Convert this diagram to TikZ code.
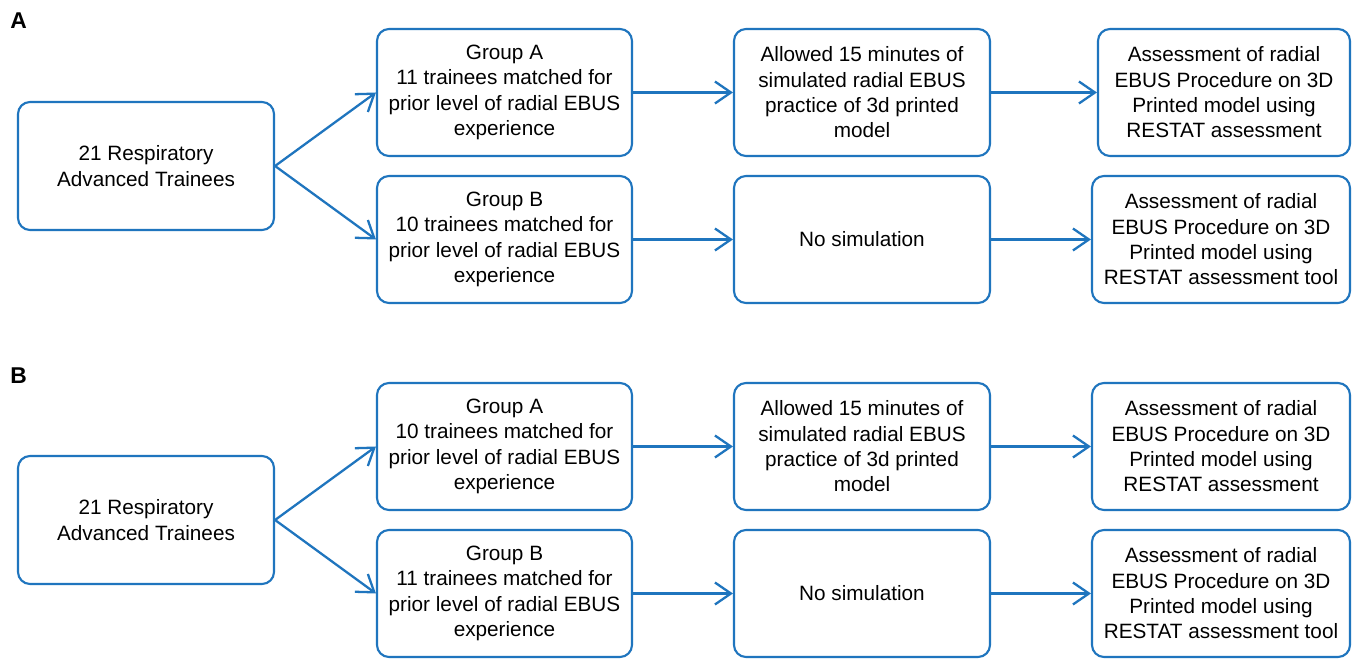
\documentclass[tikz,border=0pt]{standalone}
\usepackage{fontspec}
\setmainfont{Liberation Sans}
\usetikzlibrary{arrows.meta}
\definecolor{flowblue}{HTML}{1F75BE}

\tikzset{
  box/.style={draw=flowblue, line width=1.2pt, rounded corners=0.24cm,
    align=center, inner sep=0pt, minimum width=5.1cm, minimum height=2.54cm,
    font=\fontsize{11.8}{14.4}\selectfont},
  link/.style={draw=flowblue, line width=1.3pt,
    -{Straight Barb[length=0.32cm, width=0.44cm, line width=1.3pt]}},
  panel/.style={font=\fontsize{13}{15}\selectfont\bfseries}
}

\begin{document}
\begin{tikzpicture}[scale=1.0]

  \useasboundingbox[fill=white] (0, 0) rectangle (27.12, 13.22);

  % START OF PANEL A

  \node[panel] (labA) at (0.37, 12.8) {A};

  % BOXES
  \node[box, minimum width=5.12cm, minimum height=2.56cm] (startA) at (2.92, 9.90)
    {21 Respiratory\\Advanced Trainees};
  \node[box] (grpAA) at (10.09, 11.37)
    {Group A\\11 trainees matched for\\prior level of radial EBUS\\experience};
  \node[box] (grpAB) at (10.09, 8.43)
    {Group B\\10 trainees matched for\\prior level of radial EBUS\\experience};
  \node[box, minimum width=5.12cm] (simAA) at (17.24, 11.37)
    {Allowed 15 minutes of\\simulated radial EBUS\\practice of 3d printed\\model};
  \node[box, minimum width=5.12cm] (simAB) at (17.24, 8.43)
    {No simulation};
  \node[box, minimum width=5.04cm] (assAA) at (24.48, 11.37)
    {Assessment of radial\\EBUS Procedure on 3D\\Printed model using\\RESTAT assessment};
  \node[box, minimum width=5.16cm] (assAB) at (24.42, 8.43)
    {Assessment of radial\\EBUS Procedure on 3D\\Printed model using\\RESTAT assessment tool};

  % ARROWS
  \draw[link] (startA.east) -- (grpAA.west);
  \draw[link] (startA.east) -- (grpAB.west);
  \draw[link] (grpAA) -- (simAA);
  \draw[link] (grpAB) -- (simAB);
  \draw[link] (simAA) -- (assAA);
  \draw[link] (simAB) -- (assAB);

  %%%%

  % START OF PANEL B

  \node[panel] (labB) at (0.37, 5.7) {B};

  % BOXES
  \node[box, minimum width=5.12cm, minimum height=2.56cm] (startB) at (2.92, 2.82)
    {21 Respiratory\\Advanced Trainees};
  \node[box] (grpBA) at (10.09, 4.29)
    {Group A\\10 trainees matched for\\prior level of radial EBUS\\experience};
  \node[box] (grpBB) at (10.09, 1.35)
    {Group B\\11 trainees matched for\\prior level of radial EBUS\\experience};
  \node[box, minimum width=5.12cm] (simBA) at (17.24, 4.29)
    {Allowed 15 minutes of\\simulated radial EBUS\\practice of 3d printed\\model};
  \node[box, minimum width=5.12cm] (simBB) at (17.24, 1.35)
    {No simulation};
  \node[box, minimum width=5.16cm] (assBA) at (24.42, 4.29)
    {Assessment of radial\\EBUS Procedure on 3D\\Printed model using\\RESTAT assessment};
  \node[box, minimum width=5.16cm] (assBB) at (24.42, 1.35)
    {Assessment of radial\\EBUS Procedure on 3D\\Printed model using\\RESTAT assessment tool};

  % ARROWS
  \draw[link] (startB.east) -- (grpBA.west);
  \draw[link] (startB.east) -- (grpBB.west);
  \draw[link] (grpBA) -- (simBA);
  \draw[link] (grpBB) -- (simBB);
  \draw[link] (simBA) -- (assBA);
  \draw[link] (simBB) -- (assBB);

\end{tikzpicture}
\end{document}
